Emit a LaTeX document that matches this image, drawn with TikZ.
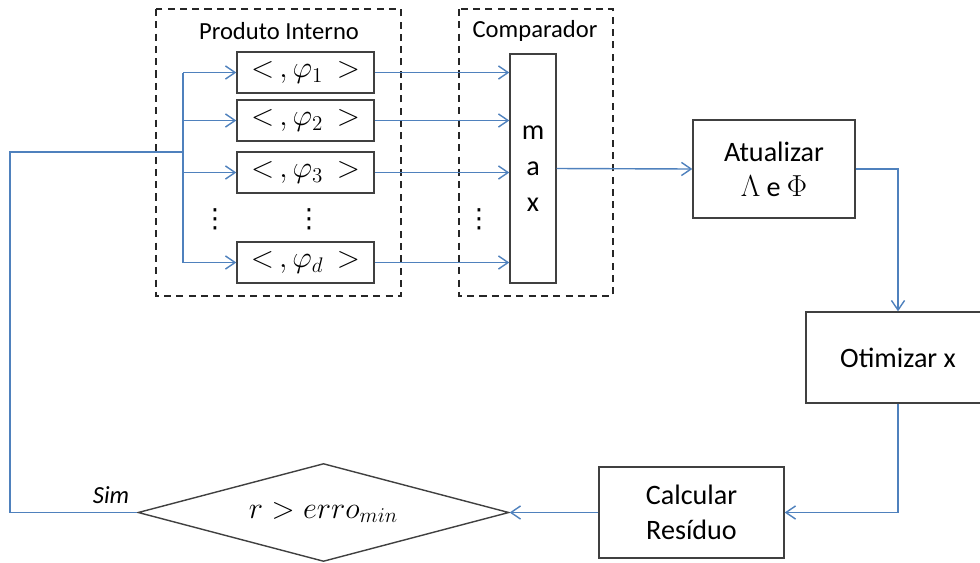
\documentclass[tikz,border=0pt]{standalone}
\usepackage{fontspec}
\setmainfont{Carlito}
\newfontfamily\simbolos{DejaVu Sans}
\usetikzlibrary{arrows.meta,shapes.geometric}
\definecolor{azul}{RGB}{79,129,189}
\definecolor{cinza}{RGB}{64,64,64}

\begin{document}
\begin{tikzpicture}[x=0.02cm,y=-0.02cm,
    caixa/.style={draw=cinza,line width=0.8pt,align=center,inner sep=0pt,font=\fontsize{16}{20}\selectfont},
    prod/.style={caixa,minimum width=2.74cm,minimum height=0.82cm,font=\fontsize{17}{20}\selectfont},
    grupo/.style={draw=black!85,line width=1.1pt,dash pattern=on 4pt off 3pt},
    pontos/.style={inner sep=0pt,font=\simbolos\fontsize{15}{18}\selectfont},
    linha/.style={azul,line width=0.8pt},
    seta/.style={linha,-{Straight Barb[length=5.5pt,width=7.5pt]}}]
    \useasboundingbox (0,0) rectangle (980,562);
    %% produto interno
    \draw[grupo] (156,9) rectangle (401,296);
    \node[font=\fontsize{14}{16}\selectfont] (tpi) at (279,31) {Produto Interno};
    \node[prod] (p1) at (305.5,72.5) {$<\,,\varphi_1\,>$};
    \node[prod] (p2) at (305.5,120.5) {$<\,,\varphi_2\,>$};
    \node[prod] (p3) at (305.5,172.5) {$<\,,\varphi_3\,>$};
    \node[prod] (pd) at (305.5,262.5) {$<\,,\varphi_d\,>$};
    \node[pontos] (dots1) at (215,219) {⋮};
    \node[pontos] (dots2) at (309,219) {⋮};
    %% comparador
    \draw[grupo] (459,9) rectangle (613,296);
    \node[font=\fontsize{14}{16}\selectfont] (tcomp) at (535,31) {Comparador};
    \node[caixa,minimum width=0.92cm,minimum height=4.58cm,font=\fontsize{16}{20.5}\selectfont] (max) at (533,168.5) {m\\a\\x};
    \node[pontos] (dots3) at (479,219) {⋮};
    %% blocos
    \node[caixa,minimum width=3.24cm,minimum height=1.96cm] (atual) at (774,169) {Atualizar\\$\Lambda$ e $\Phi$};
    \node[caixa,minimum width=3.68cm,minimum height=1.82cm] (otim) at (898,357.5) {Otimizar x};
    \node[caixa,minimum width=3.7cm,minimum height=1.82cm] (calc) at (691.5,512.5) {Calcular\\Resíduo};
    \node[caixa,shape=diamond,aspect=3.79,minimum width=7.42cm,minimum height=1.96cm,font=\fontsize{17}{20}\selectfont] (dec) at (323.5,512.5) {$r > erro_{min}$};
    \node[font=\itshape\fontsize{14}{16}\selectfont] (sim) at (111,495) {Sim};
    %% ligacoes
    \coordinate (ramo) at (183,152);
    \coordinate (volta) at (10,152);
    \draw[linha] (ramo |- p1.west) -- (ramo |- pd.west);
    \foreach \p in {p1,p2,p3,pd} {
        \draw[seta] (ramo |- \p.west) -- (\p.west);
        \draw[seta] (\p.east) -- (\p.east -| max.west);
    }
    \draw[seta] (max.east) -- (atual.west);
    \draw[seta] (atual.east) -| (otim.north);
    \draw[seta] (otim.south) |- (calc.east);
    \draw[seta] (calc.west) -- (dec.east);
    \draw[linha] (dec.west) -| (volta) -- (ramo);
\end{tikzpicture}
\end{document}
